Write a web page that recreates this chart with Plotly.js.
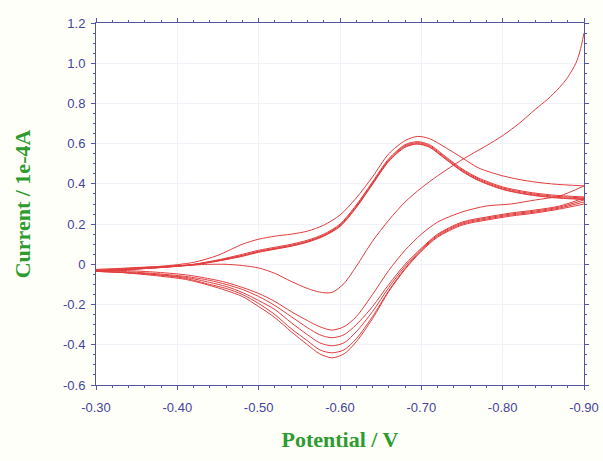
<!DOCTYPE html>
<html>
<head>
<meta charset="utf-8">
<script src="https://cdn.plot.ly/plotly-3.0.1.min.js"></script>
<style>html,body{margin:0;padding:0;background:#fffffa;}#chart{width:603px;height:461px;}</style>
</head>
<body>
<div id="chart"></div>
<script>
// Potential grids (V)
const potFirst = [-0.90, -0.895, -0.89, -0.88, -0.87, -0.855, -0.84, -0.82, -0.80, -0.78, -0.75, -0.72, -0.70, -0.68, -0.66, -0.64, -0.62, -0.605, -0.59, -0.575, -0.56, -0.54, -0.52, -0.50, -0.48, -0.46, -0.44, -0.41, -0.37, -0.33, -0.30];
const potForward = [-0.30, -0.34, -0.38, -0.42, -0.45, -0.48, -0.50, -0.52, -0.54, -0.56, -0.58, -0.60, -0.62, -0.64, -0.66, -0.68, -0.695, -0.71, -0.73, -0.75, -0.77, -0.80, -0.83, -0.86, -0.90];
const potReturn = [-0.90, -0.87, -0.84, -0.81, -0.78, -0.75, -0.72, -0.70, -0.68, -0.66, -0.64, -0.62, -0.605, -0.59, -0.575, -0.56, -0.54, -0.52, -0.50, -0.48, -0.46, -0.44, -0.41, -0.37, -0.33, -0.30];

// Current (1e-4 A) – first return sweep (starts at -0.90 V)
const ret0 = [1.15, 1.06, 1.00, 0.93, 0.88, 0.82, 0.77, 0.70, 0.64, 0.59, 0.52, 0.44, 0.38, 0.31, 0.22, 0.115, -0.01, -0.095, -0.14, -0.138, -0.12, -0.085, -0.045, -0.018, -0.006, 0.0, 0.0, -0.005, -0.012, -0.02, -0.025];

// Forward sweeps (-0.30 -> -0.90 V)
const fwd1 = [-0.03, -0.02, -0.01, 0.01, 0.045, 0.10, 0.125, 0.14, 0.15, 0.165, 0.195, 0.245, 0.33, 0.435, 0.55, 0.615, 0.636, 0.625, 0.58, 0.53, 0.48, 0.44, 0.415, 0.40, 0.39];
const fwd2 = [-0.035, -0.025, -0.015, 0.0, 0.022, 0.05, 0.07, 0.085, 0.10, 0.12, 0.15, 0.20, 0.295, 0.41, 0.525, 0.595, 0.61, 0.595, 0.535, 0.475, 0.43, 0.385, 0.36, 0.345, 0.335];
const fwd3 = [-0.035, -0.025, -0.015, 0.0, 0.02, 0.045, 0.065, 0.08, 0.095, 0.115, 0.145, 0.195, 0.29, 0.405, 0.52, 0.59, 0.605, 0.59, 0.53, 0.47, 0.425, 0.38, 0.355, 0.34, 0.33];
const fwd4 = [-0.035, -0.025, -0.015, -0.002, 0.018, 0.042, 0.062, 0.077, 0.092, 0.112, 0.142, 0.19, 0.285, 0.40, 0.515, 0.585, 0.60, 0.585, 0.525, 0.465, 0.42, 0.375, 0.35, 0.335, 0.325];
const fwd5 = [-0.035, -0.026, -0.016, -0.003, 0.016, 0.04, 0.06, 0.075, 0.09, 0.11, 0.14, 0.188, 0.282, 0.398, 0.512, 0.582, 0.598, 0.582, 0.522, 0.462, 0.417, 0.372, 0.347, 0.332, 0.322];

// Return sweeps (-0.90 -> -0.30 V)
const ret1 = [0.39, 0.34, 0.32, 0.30, 0.29, 0.26, 0.21, 0.15, 0.07, -0.03, -0.15, -0.26, -0.31, -0.327, -0.31, -0.28, -0.235, -0.185, -0.145, -0.115, -0.09, -0.072, -0.052, -0.038, -0.03, -0.028];
const ret2 = [0.33, 0.29, 0.27, 0.255, 0.235, 0.21, 0.15, 0.08, 0.0, -0.10, -0.21, -0.30, -0.35, -0.365, -0.35, -0.315, -0.26, -0.205, -0.16, -0.125, -0.10, -0.08, -0.06, -0.045, -0.035, -0.03];
const ret3 = [0.32, 0.285, 0.265, 0.25, 0.23, 0.205, 0.145, 0.075, -0.01, -0.115, -0.235, -0.335, -0.39, -0.405, -0.39, -0.35, -0.29, -0.225, -0.18, -0.14, -0.11, -0.09, -0.065, -0.05, -0.04, -0.035];
const ret4 = [0.31, 0.28, 0.26, 0.245, 0.225, 0.20, 0.14, 0.07, -0.02, -0.13, -0.26, -0.37, -0.425, -0.44, -0.425, -0.38, -0.32, -0.25, -0.195, -0.15, -0.12, -0.10, -0.07, -0.05, -0.04, -0.035];
const ret5 = [0.30, 0.275, 0.255, 0.24, 0.22, 0.195, 0.135, 0.065, -0.025, -0.135, -0.27, -0.385, -0.445, -0.465, -0.445, -0.40, -0.335, -0.265, -0.21, -0.16, -0.13, -0.105, -0.075, -0.055, -0.04, -0.035];

// Tick labels
const xTickVals = [-0.30, -0.40, -0.50, -0.60, -0.70, -0.80, -0.90];
const xTickText = ['-0.30', '-0.40', '-0.50', '-0.60', '-0.70', '-0.80', '-0.90'];
const yTickVals = [-0.6, -0.4, -0.2, 0, 0.2, 0.4, 0.6, 0.8, 1.0, 1.2];
const yTickText = ['-0.6', '-0.4', '-0.2', '0', '0.2', '0.4', '0.6', '0.8', '1.0', '1.2'];

const sweeps = [
  [potFirst, ret0], [potForward, fwd1], [potReturn, ret1],
  [potForward, fwd2], [potReturn, ret2], [potForward, fwd3], [potReturn, ret3],
  [potForward, fwd4], [potReturn, ret4], [potForward, fwd5], [potReturn, ret5]
];

const traces = sweeps.map(s => ({
  x: s[0], y: s[1], type: 'scatter', mode: 'lines',
  line: {color: '#e23c3c', width: 1, shape: 'spline', smoothing: 0.8},
  showlegend: false, hoverinfo: 'skip'
}));

const axisColor = '#5555a0';
const tickFont = {family: 'Liberation Sans, Arial, sans-serif', size: 13, color: '#44449a'};
const titleFont = {family: 'Liberation Serif, Times New Roman, serif', size: 22, color: '#2e9b2e', weight: 'bold'};

const layout = {
  width: 603, height: 461,
  margin: {l: 96, r: 19, t: 23, b: 76},
  paper_bgcolor: '#fffffa', plot_bgcolor: '#ffffff',
  xaxis: {
    range: [-0.30, -0.90],
    tickmode: 'array', tickvals: xTickVals, ticktext: xTickText,
    ticks: 'outside', ticklen: 4, tickcolor: axisColor, tickwidth: 1,
    minor: {tickmode: 'linear', tick0: -0.30, dtick: 0.02, ticks: 'outside', ticklen: 2, tickcolor: axisColor, showgrid: false},
    showline: true, linecolor: axisColor, linewidth: 1, mirror: 'ticks',
    showgrid: true, gridcolor: '#f1f1f8', zeroline: false,
    tickfont: tickFont, ticklabelstandoff: 6,
    title: {text: '<b>Potential / V</b>', font: titleFont, standoff: 18}
  },
  yaxis: {
    range: [-0.6, 1.2],
    tickmode: 'array', tickvals: yTickVals, ticktext: yTickText,
    ticks: 'outside', ticklen: 4, tickcolor: axisColor, tickwidth: 1,
    minor: {tickmode: 'linear', tick0: 0, dtick: 0.05, ticks: 'outside', ticklen: 2, tickcolor: axisColor, showgrid: false},
    showline: true, linecolor: axisColor, linewidth: 1, mirror: 'ticks',
    showgrid: true, gridcolor: '#f1f1f8', zeroline: false,
    tickfont: tickFont, ticklabelstandoff: 3,
    title: {text: '<b>Current / 1e-4A</b>', font: titleFont, standoff: 26}
  }
};

Plotly.newPlot('chart', traces, layout, {staticPlot: true, displayModeBar: false});
</script>
</body>
</html>
